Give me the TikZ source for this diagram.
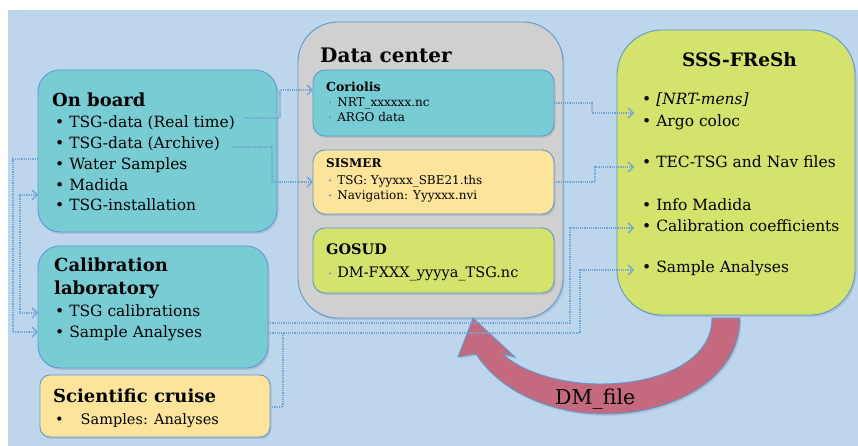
\documentclass[tikz,border=0pt]{standalone}
\usepackage{fontspec}
\setmainfont{DejaVu Serif}
\usetikzlibrary{positioning,arrows.meta,shadows}
\definecolor{bgblue}{HTML}{BDD6EB}
\definecolor{cyanbox}{HTML}{78CDD4}
\definecolor{yellowbox}{HTML}{FDE49B}
\definecolor{limebox}{HTML}{D5E26B}
\definecolor{greybox}{HTML}{D0D0D0}
\definecolor{edgeblue}{HTML}{5B9BD5}
\definecolor{linkblue}{HTML}{6FA6D9}
\definecolor{arcred}{HTML}{C5697F}
\newcommand{\bluedot}{{\color{edgeblue}\fontsize{7}{7}\selectfont\raisebox{1pt}{•}}\hspace{5pt}}
\begin{document}
\begin{tikzpicture}[x=1pt,y=1pt,>={Straight Barb[length=5pt,width=10pt,line width=1.4pt]},
	card/.style={rectangle,draw=edgeblue,line width=0.9pt,inner sep=0pt,outer sep=0pt,
		drop shadow={shadow xshift=1.5pt,shadow yshift=-2pt,opacity=.25}},
	head/.style={anchor=base west,inner sep=0pt,font=\bfseries\fontsize{18}{23}\selectfont},
	subhead/.style={anchor=base west,inner sep=0pt,font=\bfseries\fontsize{12.5}{15}\selectfont},
	items/.style={anchor=base west,inner sep=0pt,align=left,font=\fontsize{15.5}{20.7}\selectfont},
	small/.style={anchor=base west,inner sep=0pt,align=left,font=\fontsize{12}{15}\selectfont},
	link/.style={draw=linkblue,line width=1.2pt,densely dotted}]
	\useasboundingbox (0,0) rectangle (858,446);
	\fill[bgblue] (8,0) rectangle (858,436);
	% trung tam du lieu
	\node[card,fill=greybox,rounded corners=40,minimum width=265,minimum height=296] (dc) at (430.5,276) {};
	\node[card,fill=cyanbox,rounded corners=12,minimum width=241,minimum height=66] (cor) at (433.5,343) {};
	\node[card,fill=yellowbox,rounded corners=12,minimum width=241,minimum height=64,below=14pt of cor] (sis) {};
	\node[card,fill=limebox,rounded corners=12,minimum width=241,minimum height=65,below=14pt of sis] (gos) {};
	% cac nguon
	\node[card,fill=cyanbox,rounded corners=22,minimum width=239,minimum height=162] (ob) at (157.5,295) {};
	\node[card,fill=cyanbox,rounded corners=22,minimum width=230,minimum height=122] (cal) at (153,139) {};
	\node[card,fill=yellowbox,rounded corners=10,minimum width=230,minimum height=62] (sci) at (155,40) {};
	\node[card,fill=limebox,rounded corners=45,minimum width=238,minimum height=285] (sss) at (736,273.5) {};
	% mui ten DM_file
	\filldraw[fill=arcred,draw=edgeblue,line width=0.9pt,drop shadow={shadow xshift=1.5pt,shadow yshift=-2pt,opacity=.2}]
		(473,128) -- (458,89) -- (476,92)
		.. controls (500,55) and (550,32) .. (605,32)
		.. controls (670,32) and (740,65) .. (740,128)
		-- (712,128)
		.. controls (712,85) and (660,62) .. (600,62)
		.. controls (560,62) and (520,75) .. (503,92)
		-- (515,89) -- cycle;
	\node[anchor=base west,inner sep=0pt,font=\fontsize{20.5}{24}\selectfont] (dm) at (555,41) {DM\_file};
	% duong noi
	\coordinate (rt) at (245,328);
	\coordinate (ar) at (233,299);
	\coordinate (nrtin) at (634,333);
	\coordinate (tecin) at (634,279);
	\coordinate (coefin) at (634,218);
	\coordinate (sampin) at (634,176);
	\draw[link,->] (rt) -| (280,356) -- (cor.west |- 0,356);
	\draw[link,->] (ar) -| (272,264) -- (sis.west);
	\draw[link,->] (cor.east) -| (592,333) -- (nrtin);
	\draw[link,->] (sis.east) -| (595,279) -- (tecin);
	\draw[link,->] (cal.east |- 0,123) -| (570,218) -- (coefin);
	\draw[link,->] (cal.east |- 0,113) -| (580,176) -- (sampin);
	\draw[link] (sci.east |- 0,39) -| (283,113);
	\draw[link,->] (ob.west |- 0,287) -| (13,114) -- (cal.west |- 0,114);
	\draw[link,<->] (cal.west |- 0,133) -| (20,251) -- (ob.west |- 0,251);
	% chu (base = dong cuoi)
	\node[head] (obh) at (52,339) {On board};
	\node[items] (obl) at (55,235.2) {• TSG-data (Real time)\\ • TSG-data (Archive)\\ • Water Samples\\ • Madida\\ • TSG-installation};
	\node[head,align=left] (calh) at (54,151) {Calibration\\laboratory};
	\node[items] (call) at (55,108.3) {• TSG calibrations\\ • Sample Analyses};
	\node[head] (scih) at (53,43) {Scientific cruise};
	\node[items,font=\fontsize{14.5}{18}\selectfont] (scil) at (55,21) {•\hspace{17pt}Samples: Analyses};
	\node[head,font=\bfseries\fontsize{20}{24}\selectfont] (dch) at (320,383) {Data center};
	\node[subhead] (corh) at (326,354) {Coriolis};
	\node[small] (corl) at (328,324) {\bluedot NRT\_xxxxxx.nc\\ \bluedot ARGO data};
	\node[subhead,font=\bfseries\fontsize{12}{15}\selectfont] (sish) at (326,278) {SISMER};
	\node[small] (sisl) at (328,246) {\bluedot TSG: Yyyxxx\_SBE21.ths\\ \bluedot Navigation: Yyyxxx.nvi};
	\node[subhead,font=\bfseries\fontsize{14.5}{18}\selectfont] (gosh) at (326,191) {GOSUD};
	\node[small,font=\fontsize{14.5}{18}\selectfont] (gosl) at (328,168) {\bluedot DM-FXXX\_yyyya\_TSG.nc};
	\node[head,font=\bfseries\fontsize{18.5}{23}\selectfont] (sssh) at (682,379) {SSS-FReSh};
	\node[items,font=\fontsize{15.5}{21.5}\selectfont] (sssl) at (642,173) {• \textit{[NRT-mens]}\\ • Argo coloc\\[19.5pt] • TEC-TSG and Nav files\\[21.5pt] • Info Madida\\ • Calibration coefficients\\[19.5pt] • Sample Analyses};
\end{tikzpicture}
\end{document}
